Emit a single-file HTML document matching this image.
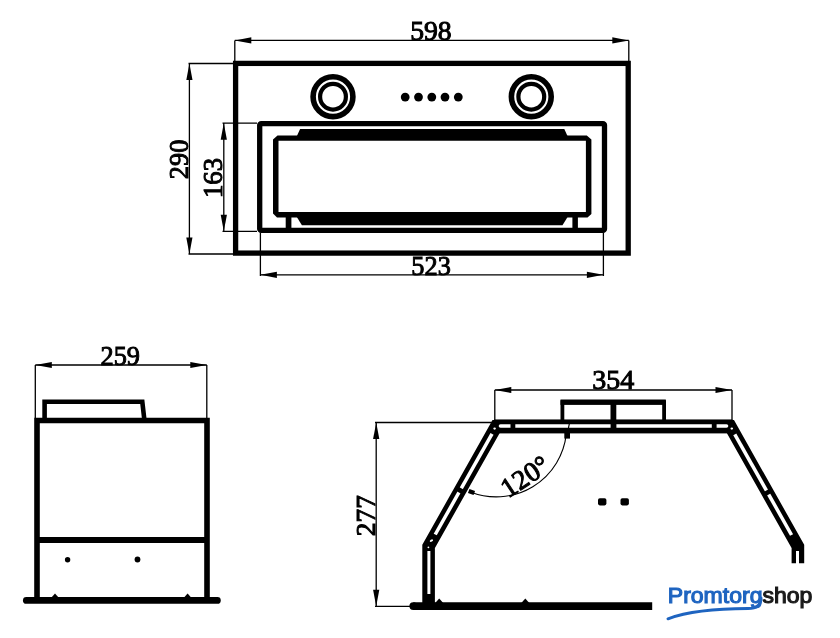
<!DOCTYPE html>
<html><head><meta charset="utf-8"><style>
html,body{margin:0;padding:0;background:#fff;width:840px;height:638px;overflow:hidden}
svg{display:block}
text{font-family:"Liberation Serif",serif;fill:#000;stroke:#000;stroke-width:1.0px}
svg{will-change:transform}
.logo{font-family:"Liberation Sans",sans-serif;font-weight:normal;stroke-width:1.1px}
</style></head><body>
<svg width="840" height="638" viewBox="0 0 840 638">
<rect width="840" height="638" fill="#fff"/>
<path d="M234.8,40.4H628.8M234.8,40.4V61M628.8,40.4V61" stroke="#000" stroke-width="1.3" fill="none"/>
<polygon points="234.80,40.40 251.30,37.30 251.30,43.50"/>
<polygon points="628.80,40.40 612.30,43.50 612.30,37.30"/>
<path d="M189.4,63.5V254M188.5,63.5H233.5M188.5,254H233.5" stroke="#000" stroke-width="1.3" fill="none"/>
<polygon points="189.40,63.50 192.50,80.00 186.30,80.00"/>
<polygon points="189.40,254.00 186.30,237.50 192.50,237.50"/>
<path d="M223.8,123.2V231.3M222.5,123.2H257M222.5,231.3H257" stroke="#000" stroke-width="1.3" fill="none"/>
<polygon points="223.80,123.20 226.90,139.70 220.70,139.70"/>
<polygon points="223.80,231.30 220.70,214.80 226.90,214.80"/>
<path d="M260.4,274.8H603.4M260.4,232.5V276M603.4,232.5V276" stroke="#000" stroke-width="1.3" fill="none"/>
<polygon points="260.40,274.80 276.90,271.70 276.90,277.90"/>
<polygon points="603.40,274.80 586.90,277.90 586.90,271.70"/>
<rect x="235.6" y="63.4" width="392.6" height="189.7" fill="none" stroke="#000" stroke-width="5.3"/>
<rect x="259.7" y="123.6" width="344.8" height="106.8" rx="1.5" fill="none" stroke="#000" stroke-width="5.3"/>
<path d="M277.5,135.4H586.8L591.4,139.5V214L587.5,217.6H277L273,213.5V139.5Z M278.5,140.8V212H585.9V140.8Z" fill="#000" fill-rule="evenodd"/>
<polygon points="296.9,136 300.1,128.9 564.3,128.9 567.5,136"/>
<polygon points="296.2,216 301.9,225.2 562.5,225.2 568.2,216"/>
<rect x="285.7" y="216" width="5.7" height="13"/>
<rect x="572.4" y="216" width="5.5" height="13"/>
<circle cx="333.0" cy="96.7" r="19.9" fill="none" stroke="#000" stroke-width="5.6"/>
<circle cx="333.0" cy="96.7" r="12.9" fill="none" stroke="#000" stroke-width="4.2"/>
<circle cx="531.3" cy="96.7" r="19.9" fill="none" stroke="#000" stroke-width="5.6"/>
<circle cx="531.3" cy="96.7" r="12.9" fill="none" stroke="#000" stroke-width="4.2"/>
<circle cx="405.2" cy="97.1" r="4.4"/>
<circle cx="418.5" cy="97.1" r="4.4"/>
<circle cx="431.8" cy="97.1" r="4.4"/>
<circle cx="445.0" cy="97.1" r="4.4"/>
<circle cx="458.3" cy="97.1" r="4.4"/>
<path d="M35.3,365H206.8M35.3,365V418M206.8,365V418" stroke="#000" stroke-width="1.3" fill="none"/>
<polygon points="35.30,365.00 51.80,361.90 51.80,368.10"/>
<polygon points="206.80,365.00 190.30,368.10 190.30,361.90"/>
<path d="M37,600V420.5H207V600" fill="none" stroke="#000" stroke-width="5.6"/>
<path d="M37,540H207" stroke="#000" stroke-width="6.2"/>
<path d="M26.3,600.4H217.4" stroke="#000" stroke-width="6.7" stroke-linecap="round"/>
<path d="M44.6,421V401.8H142.3L144.5,421" fill="none" stroke="#000" stroke-width="4.6" stroke-linejoin="miter"/>
<circle cx="67.6" cy="559.7" r="2.7"/><circle cx="137.5" cy="559.5" r="2.9"/>
<polygon points="51,598 55,593.5 59,598"/><polygon points="183.6,598 187.6,593.5 191.6,598"/>
<path d="M494.8,390H732M494.8,390V420M732,390V420" stroke="#000" stroke-width="1.3" fill="none"/>
<polygon points="494.80,390.00 511.30,386.90 511.30,393.10"/>
<polygon points="732.00,390.00 715.50,393.10 715.50,386.90"/>
<path d="M376.2,422.5V606.3M375,422.5H493M375,606.3H411" stroke="#000" stroke-width="1.3" fill="none"/>
<polygon points="376.20,422.50 379.30,439.00 373.10,439.00"/>
<polygon points="376.20,606.30 373.10,589.80 379.30,589.80"/>
<path d="M562.4,421V402.2H664.1V421" fill="none" stroke="#000" stroke-width="3.8"/>
<rect x="560.5" y="399.5" width="105.3" height="5.4"/>
<rect x="610.5" y="400" width="5.8" height="28.5"/>
<path d="M428.6,603V546.4L496.2,426.4H730.3L797.9,546.4V563.3" fill="none" stroke="#000" stroke-width="12.6" stroke-linejoin="miter" stroke-miterlimit="10"/>
<rect x="494.2" y="419.45" width="238.2" height="13.95"/>
<path d="M500.5,426H726.5" stroke="#fff" stroke-width="3.6" stroke-linecap="round"/>
<path d="M492.03,433.8L435.23,534.5" stroke="#fff" stroke-width="3.5" fill="none"/>
<path d="M734.76,434.3L791.55,535" stroke="#fff" stroke-width="3.5" fill="none"/>
<path d="M428.9,551V594" stroke="#fff" stroke-width="3.0"/>
<path d="M797.5,551V564" stroke="#fff" stroke-width="3.0"/>
<ellipse cx="494.6" cy="428.6" rx="1.3" ry="1.1" fill="#fff"/>
<ellipse cx="731.8" cy="428.6" rx="1.3" ry="1.1" fill="#fff"/>
<ellipse cx="431.4" cy="540.6" rx="1.8" ry="1.1" transform="rotate(-30 431.4 540.6)" fill="#fff"/>
<circle cx="428.4" cy="547.3" r="0.9" fill="#fff"/>
<rect x="610.6" y="422" width="5.8" height="7.5" rx="1.5"/>
<path d="M569.6,422.5L567.2,434" stroke="#000" stroke-width="1.2"/>
<rect x="510.5" y="423" width="4.8" height="6"/>
<rect x="711.8" y="423" width="4.8" height="6"/>
<rect x="-2.4" y="-3" width="4.8" height="6" transform="translate(460.10,490.4) rotate(119.4)"/>
<rect x="-2.4" y="-3" width="4.8" height="6" transform="translate(767.58,492.5) rotate(60.6)"/>
<path d="M566.25,434.38A70.5,70.5 0 0 1 470.94,492.22" stroke="#000" stroke-width="1.1" fill="none"/>
<rect x="564.3" y="433" width="5.7" height="5.6"/>
<rect x="-3" y="-2.2" width="6" height="4.4" transform="translate(471.5,492) rotate(20)"/>
<rect x="598" y="498.2" width="8.4" height="7.2" rx="1.8"/>
<rect x="620.5" y="498.2" width="8.4" height="7.2" rx="1.8"/>
<path d="M413.3,606.1H652.2" stroke="#000" stroke-width="7.8"/><circle cx="413.3" cy="606.1" r="3.9"/>
<polygon points="435.2,603 439.2,598.5 443.2,603"/><polygon points="521.3,603 525.3,598.5 529.3,603"/>
<text x="410.20" y="39.60" font-size="28.00" textLength="41.50" lengthAdjust="spacingAndGlyphs">598</text>
<text x="411.30" y="275.10" font-size="28.00" textLength="39.50" lengthAdjust="spacingAndGlyphs">523</text>
<text transform="translate(187.60,179.20) rotate(-90)" font-size="28.00" textLength="39.50" lengthAdjust="spacingAndGlyphs">290</text>
<text transform="translate(221.60,198.00) rotate(-90)" font-size="28.00" textLength="40.00" lengthAdjust="spacingAndGlyphs">163</text>
<text x="100.50" y="364.90" font-size="28.00" textLength="39.50" lengthAdjust="spacingAndGlyphs">259</text>
<text x="592.20" y="388.70" font-size="28.00" textLength="42.00" lengthAdjust="spacingAndGlyphs">354</text>
<text transform="translate(375.20,536.20) rotate(-90)" font-size="28.00" textLength="41.00" lengthAdjust="spacingAndGlyphs">277</text>
<text transform="translate(508.3,498.6) rotate(-33.7)" font-size="27.5">120°</text>
<text class="logo" x="667.8" y="602.8" font-size="21.5" textLength="144.6" lengthAdjust="spacingAndGlyphs"><tspan fill="#1e64c0" stroke="#1e64c0">Promtorg</tspan><tspan fill="#1a1a1a" stroke="#1a1a1a">shop</tspan></text>
<path d="M668,618.8 C688,611.5 715,608.7 748,608.6 Q761,608.4 761,598" stroke="#1e64c0" stroke-width="3" fill="none" stroke-linecap="round"/>
</svg>
</body></html>
